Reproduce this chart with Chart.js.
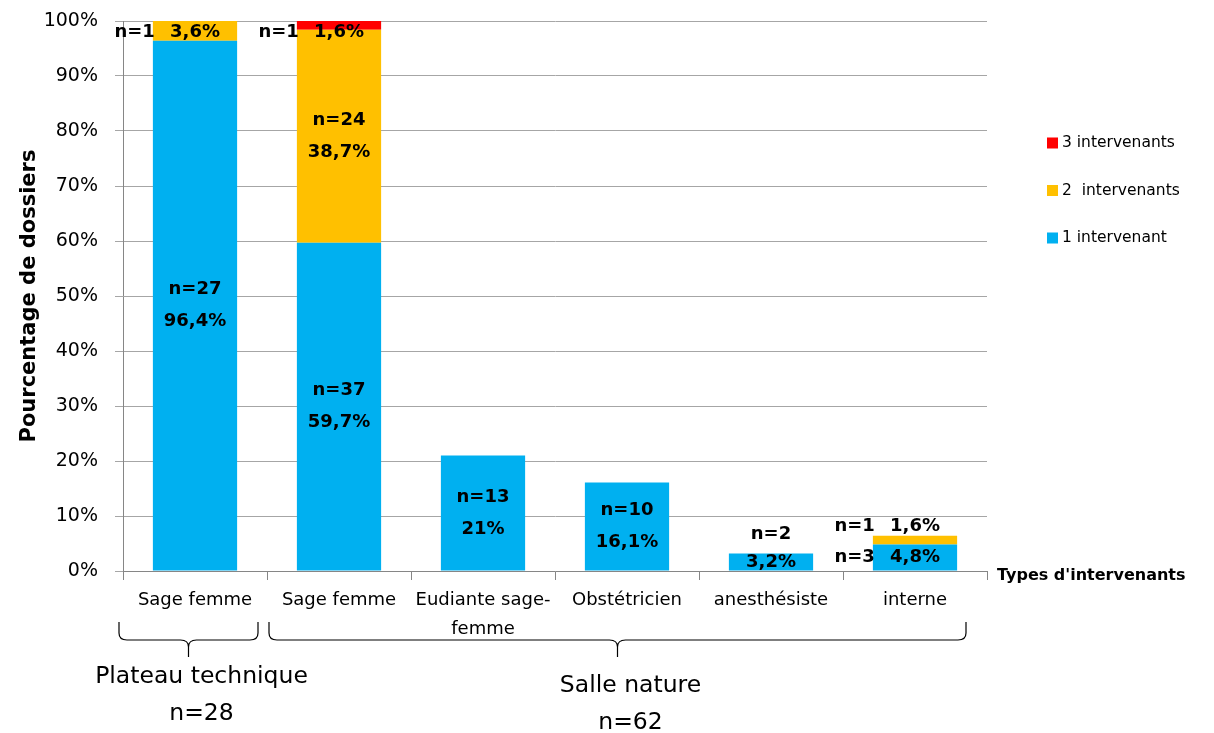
<!DOCTYPE html>
<html>
<head>
<meta charset="utf-8">
<script src="https://cdn.jsdelivr.net/npm/chart.js@4"></script>
<style>
  body { margin: 0; background: #fff; }
  #wrap { width: 1214px; height: 733px; position: relative; }
</style>
</head>
<body>
<div id="wrap"><canvas id="chart"></canvas></div>
<script>
// categories and values
const categories = ['Sage femme', 'Sage femme', ['Eudiante sage-', 'femme'], 'Obstétricien', 'anesthésiste', 'interne'];
const seriesNames = ['1 intervenant', '2  intervenants', '3 intervenants'];
const seriesColors = ['#00B0F0', '#FFC000', '#FF0000'];
const pctOne = [96.4, 59.7, 21, 16.1, 3.2, 4.8];
const pctTwo = [3.6, 38.7, 0, 0, 0, 1.6];
const pctThree = [0, 1.6, 0, 0, 0, 0];
const countOne = [27, 37, 13, 10, 2, 3];
const countTwo = [1, 24, 0, 0, 0, 1];
const countThree = [0, 1, 0, 0, 0, 0];
const yTicks = [0, 10, 20, 30, 40, 50, 60, 70, 80, 90, 100];
const groupNames = ['Plateau technique', 'Salle nature'];
const groupCounts = ['n=28', 'n=62'];
const groupFrom = [0, 1];
const groupTo = [0, 5];

const counts = [countOne, countTwo, countThree];
const FONT = 'DejaVu Sans';

function fmtPct(v) {
  return String(v).replace('.', ',') + '%';
}

// n= / % labels on the bar segments
const segLabels = {
  id: 'segLabels',
  afterDatasetsDraw(chart) {
    const ctx = chart.ctx;
    const ds = chart.data.datasets;
    ctx.save();
    ctx.font = 'bold 18px ' + FONT;
    ctx.fillStyle = '#000';
    ctx.textBaseline = 'middle';
    ds.forEach((d, di) => {
      const meta = chart.getDatasetMeta(di);
      meta.data.forEach((bar, j) => {
        const v = d.data[j];
        if (!v) return;
        const n = 'n=' + counts[di][j];
        const p = fmtPct(v);
        const top = Math.min(bar.y, bar.base);
        const h = Math.abs(bar.base - bar.y);
        const mid = top + h / 2;
        const left = bar.x - bar.width / 2;
        let above = false;
        for (let k = di + 1; k < ds.length; k++) if (ds[k].data[j]) above = true;
        let below = false;
        for (let k = 0; k < di; k++) if (ds[k].data[j]) below = true;

        if (h >= 40) {
          ctx.textAlign = 'center';
          ctx.fillText(n, bar.x, mid - 16);
          ctx.fillText(p, bar.x, mid + 16);
        } else if (!above && !below) {
          ctx.textAlign = 'center';
          ctx.fillText(n, bar.x, top - 19);
          ctx.fillText(p, bar.x, mid);
        } else {
          let y = mid;
          if (!above) {
            y = top <= chart.chartArea.top + 1 ? Math.max(mid, top + 11) : top - 9;
          }
          ctx.textAlign = 'center';
          ctx.fillText(p, bar.x, y);
          ctx.textAlign = 'right';
          ctx.fillText(n, left + 2, y);
        }
      });
    });
    ctx.restore();
  }
};

// legend, x title, braces and group names
const extras = {
  id: 'extras',
  afterDraw(chart) {
    const ctx = chart.ctx;
    const area = chart.chartArea;
    const xs = chart.scales.x;
    ctx.save();

    // legend, reversed order
    ctx.font = '15.5px ' + FONT;
    ctx.textBaseline = 'middle';
    ctx.textAlign = 'left';
    const ds = chart.data.datasets;
    for (let i = ds.length - 1, row = 0; i >= 0; i--, row++) {
      const y = area.top + 122 + row * 47.5;
      ctx.fillStyle = ds[i].backgroundColor;
      ctx.fillRect(area.right + 60, y - 5.5, 11, 11);
      ctx.fillStyle = '#000';
      ctx.fillText(ds[i].label, area.right + 75, y);
    }

    // x axis title
    ctx.font = 'bold 16px ' + FONT;
    ctx.fillText("Types d'intervenants", area.right + 10, area.bottom + 5);

    // braces
    const cw = xs.width / chart.data.labels.length;
    ctx.strokeStyle = '#000';
    ctx.lineWidth = 1.2;
    groupNames.forEach((name, g) => {
      const L = xs.getPixelForValue(groupFrom[g]) - cw / 2 - (g === 0 ? 4 : -2);
      const R = xs.getPixelForValue(groupTo[g]) + cw / 2 - (g === 0 ? 9 : 21);
      const M = (L + R) / 2;
      const t = area.bottom + 51, hy = area.bottom + 69, tip = area.bottom + 86;
      ctx.beginPath();
      ctx.moveTo(L, t);
      ctx.lineTo(L, hy - 7);
      ctx.quadraticCurveTo(L, hy, L + 8, hy);
      ctx.lineTo(M - 8, hy);
      ctx.quadraticCurveTo(M, hy, M, hy + 7);
      ctx.lineTo(M, tip);
      ctx.moveTo(M, hy + 7);
      ctx.quadraticCurveTo(M, hy, M + 8, hy);
      ctx.lineTo(R - 8, hy);
      ctx.quadraticCurveTo(R, hy, R, hy - 7);
      ctx.lineTo(R, t);
      ctx.stroke();

      ctx.fillStyle = '#000';
      ctx.font = '23.5px ' + FONT;
      ctx.textAlign = 'center';
      const dy = g * 9;
      ctx.fillText(name, M + 13, area.bottom + 106 + dy);
      ctx.fillText(groupCounts[g], M + 13, area.bottom + 143 + dy);
    });
    ctx.restore();
  }
};

const barOpts = { barPercentage: 0.585, categoryPercentage: 1, borderWidth: 0, stack: 's' };

new Chart(document.getElementById('chart'), {
  type: 'bar',
  data: {
    labels: categories,
    datasets: [
      Object.assign({ label: seriesNames[0], data: pctOne, backgroundColor: seriesColors[0] }, barOpts),
      Object.assign({ label: seriesNames[1], data: pctTwo, backgroundColor: seriesColors[1] }, barOpts),
      Object.assign({ label: seriesNames[2], data: pctThree, backgroundColor: seriesColors[2] }, barOpts)
    ]
  },
  options: {
    responsive: true,
    maintainAspectRatio: false,
    animation: false,
    layout: { padding: { top: 21, right: 227, left: 0, bottom: 0 } },
    plugins: {
      legend: { display: false },
      tooltip: { enabled: false }
    },
    scales: {
      x: {
        stacked: true,
        afterFit: s => { s.height = 162; },
        border: { color: '#868686' },
        grid: { offset: true, drawOnChartArea: false, tickLength: 9, color: '#868686' },
        ticks: {
          autoSkip: false,
          maxRotation: 0,
          padding: 6,
          color: '#000',
          font: { family: FONT, size: 18, lineHeight: 1.6 }
        }
      },
      y: {
        stacked: true,
        min: 0,
        max: 100,
        afterFit: s => { s.width = 123; s.paddingTop = 0; s.paddingBottom = 0; },
        afterBuildTicks: s => { s.ticks = yTicks.map(v => ({ value: v })); },
        border: { color: '#868686' },
        grid: { color: '#a6a6a6', tickLength: 8 },
        ticks: {
          padding: 17,
          color: '#000',
          font: { family: FONT, size: 19 },
          callback: v => v + '%'
        },
        title: {
          display: true,
          text: 'Pourcentage de dossiers',
          color: '#000',
          padding: { top: 17, bottom: 0 },
          font: { family: FONT, size: 21, weight: 'bold' }
        }
      }
    }
  },
  plugins: [segLabels, extras]
});
</script>
</body>
</html>
